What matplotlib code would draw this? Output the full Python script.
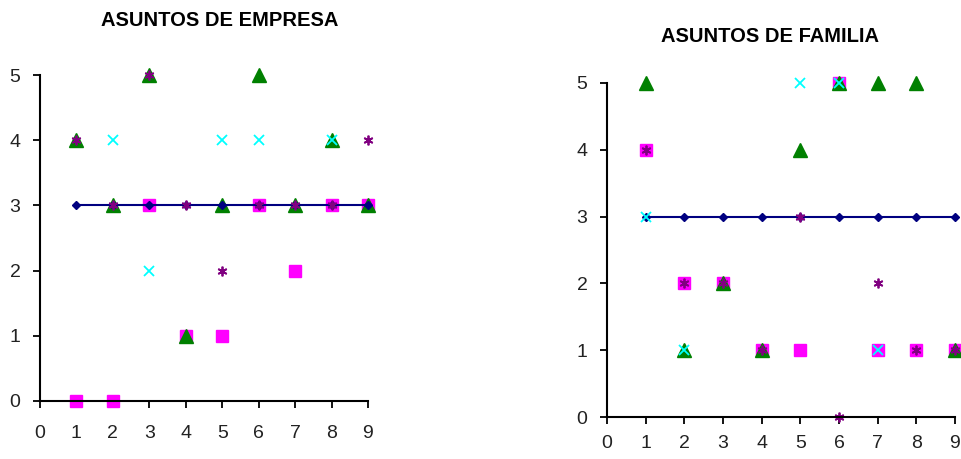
import matplotlib.pyplot as plt

plt.rcParams['font.family'] = ['Liberation Sans', 'DejaVu Sans']

nan = float('nan')
x = [1, 2, 3, 4, 5, 6, 7, 8, 9]

# ASUNTOS DE EMPRESA
emp_linea = [3, 3, 3, 3, 3, 3, 3, 3, 3]
emp_cuadro = [0, 0, 3, 1, 1, 3, 2, 3, 3]
emp_triang = [4, 3, 5, 1, 3, 5, 3, 4, 3]
emp_cruz = [nan, 4, 2, nan, 4, 4, nan, 4, nan]
emp_aster = [4, 3, 5, 3, 2, 3, 3, 3, 4]

# ASUNTOS DE FAMILIA
fam_linea = [3, 3, 3, 3, 3, 3, 3, 3, 3]
fam_cuadro = [4, 2, 2, 1, 1, 5, 1, 1, 1]
fam_triang = [5, 1, 2, 1, 4, 5, 5, 5, 1]
fam_cruz = [3, 1, nan, nan, 5, 5, 1, nan, nan]
fam_aster = [4, 2, 2, 1, 3, 0, 2, 1, 1]

fig = plt.figure(figsize=(9.61, 4.59), dpi=100)


def dibujar(ax, titulo, linea, cuadro, triang, cruz, aster, ty, xpad):
    ax.plot(x, cuadro, 's', color='#ff00ff', markersize=8.5, linestyle='none', clip_on=False)
    ax.plot(x, triang, '^', color='#008000', markersize=10, linestyle='none', clip_on=False)
    ax.plot(x, linea, 'D', color='#000080', markersize=4.5, linestyle='-', linewidth=1.5, clip_on=False)
    ax.plot(x, cruz, 'x', color='#00ffff', markersize=7, markeredgewidth=1.3, linestyle='none', clip_on=False)
    ax.plot(x, aster, marker=(6, 2, 0), color='#800080', markersize=7, markeredgewidth=1.3,
            linestyle='none', clip_on=False)
    ax.set_xlim(0, 9)
    ax.set_ylim(0, 5)
    ax.set_xticks(range(10))
    ax.set_yticks(range(6))
    ax.spines['top'].set_visible(False)
    ax.spines['right'].set_visible(False)
    ax.spines['left'].set_linewidth(1.5)
    ax.spines['bottom'].set_linewidth(1.5)
    ax.tick_params(direction='out', length=5, width=1.3, labelsize=14, labelcolor='#222222')
    ax.tick_params(axis='y', pad=9)
    ax.tick_params(axis='x', pad=xpad)
    fig.text(ty[0], ty[1], titulo, ha='center', va='center', fontsize=14.5, fontweight='bold')


ax1 = fig.add_axes([0.0416, 0.1264, 0.3413, 0.710])
dibujar(ax1, 'ASUNTOS DE EMPRESA', emp_linea, emp_cuadro, emp_triang, emp_cruz, emp_aster,
        (0.229, 0.955), 12)

ax2 = fig.add_axes([0.6316, 0.0915, 0.3621, 0.7277])
dibujar(ax2, 'ASUNTOS DE FAMILIA', fam_linea, fam_cuadro, fam_triang, fam_cruz, fam_aster,
        (0.801, 0.92), 8)

plt.savefig('out.png', dpi=100)
